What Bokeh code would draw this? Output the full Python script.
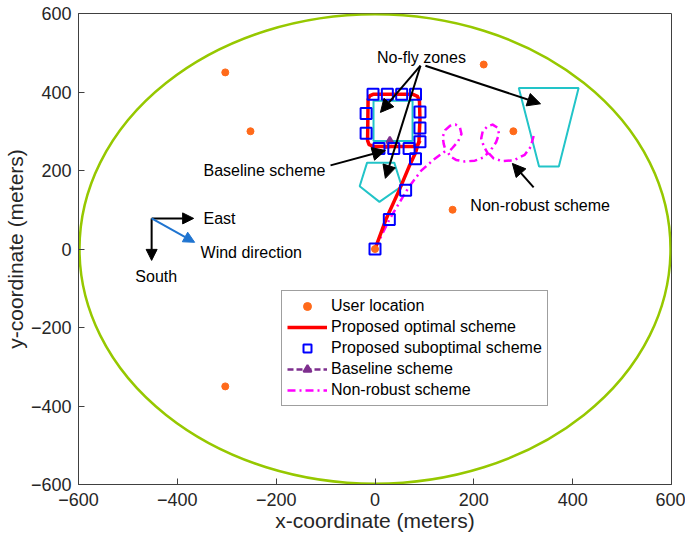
from bokeh.plotting import figure
from bokeh.models import (Arrow, NormalHead, Legend, LegendItem, Range1d,
                          FixedTicker, ColumnDataSource)
from bokeh.core.properties import value
from bokeh.embed import file_html
from bokeh.resources import INLINE

# ---------------- data ----------------
area_radius = 598
user_x = [-303, -252, 220, 280, 157, -303, 0]
user_y = [450, 300, 470, 300, 100, -350, 0]

nfz_square_x = [-3, 76, 76, -3]
nfz_square_y = [378, 378, 275, 275]
nfz_pent_x = [-16, 39, 54, 9, -31]
nfz_pent_y = [220, 220, 160, 120, 160]
nfz_trap_x = [291, 412, 372, 332]
nfz_trap_y = [410, 410, 210, 210]

opt_x = [0, 22, 49, 69, 82, 89, 91, 90, 86, 77, -4, -11, -14, -15, -12, -2, 78, 87, 91]
opt_y = [0, 75, 150, 210, 245, 275, 330, 377, 389, 394, 394, 390, 380, 276, 266, 261, 261, 266, 276]

sub_x = [0, 29, 62, 82, 91, 91, 91, 82, 54, 25, -4, -18, -18, 8, 38, 69]
sub_y = [0, 75, 150, 230, 273, 308, 349, 394, 394, 394, 394, 345, 295, 256, 256, 256]

base_x = [19, 44, 30, 19]
base_y = [258, 262, 272, 258]
base_mark_x = [30]
base_mark_y = [276]

nr_x = [0, 29, 67, 93, 119, 143, 139, 137, 142, 152, 163, 172, 175, 168, 157, 148,
        152, 164, 182, 202, 219, 228, 220, 215, 218, 227, 238, 248, 251, 245, 236, 231,
        240, 257, 281, 303, 315, 321]
nr_y = [0, 75, 155, 199, 228, 250, 268, 286, 303, 314, 317, 309, 293, 274, 258, 246,
        236, 227, 223, 225, 233, 244, 262, 282, 300, 312, 317, 309, 293, 272, 255, 243,
        231, 224, 226, 240, 260, 288]

# annotation arrows: (x_start, y_start, x_end, y_end)
arrow_x0 = [92, 92, 102, -90, 321]
arrow_y0 = [467, 467, 467, 213, 157]
arrow_x1 = [11, 21, 335, 21, 278]
arrow_y1 = [348, 180, 370, 251, 218]

compass_x0 = -452
compass_y0 = 78
east_end = (-367, 78)
south_end = (-452, -29)
wind_end = (-365, 17)

ticks = [-600, -400, -200, 0, 200, 400, 600]

FONT = "Liberation Sans"
TXT = "#262626"

# ---------------- figure ----------------
p = figure(width=685, height=538, output_backend="svg", toolbar_location=None,
           x_range=Range1d(-600, 600), y_range=Range1d(-600, 600),
           min_border_left=75, min_border_right=14, min_border_top=13,
           min_border_bottom=54)
p.xgrid.visible = False
p.ygrid.visible = False
p.outline_line_color = "#404040"
p.outline_line_width = 1
p.background_fill_color = "white"
p.border_fill_color = "white"

for ax in (p.xaxis[0], p.yaxis[0]):
    ax.ticker = FixedTicker(ticks=ticks)
    ax.major_tick_in = 6
    ax.major_tick_out = 0
    ax.minor_tick_line_color = None
    ax.axis_line_color = "#404040"
    ax.major_tick_line_color = "#404040"
    ax.major_label_text_font = FONT
    ax.major_label_text_font_size = "18px"
    ax.major_label_text_color = TXT
    ax.axis_label_text_font = FONT
    ax.axis_label_text_font_size = "21px"
    ax.axis_label_text_font_style = "normal"
    ax.axis_label_text_color = TXT
p.xaxis.axis_label = "x-coordinate (meters)"
p.yaxis.axis_label = "y-coordinate (meters)"
p.xaxis.major_label_standoff = 8
p.xaxis.axis_label_standoff = 0
p.yaxis.major_label_standoff = 7
p.yaxis.axis_label_standoff = 1

# service area boundary
p.ellipse(x=[0], y=[0], width=[2 * area_radius], height=[2 * area_radius],
          fill_alpha=0, line_color="#96c800", line_width=2.5)

# no-fly zones
p.patch(nfz_square_x, nfz_square_y, fill_alpha=0, line_color="#22c4c8", line_width=2)
p.patch(nfz_pent_x, nfz_pent_y, fill_alpha=0, line_color="#22c4c8", line_width=2)
p.patch(nfz_trap_x, nfz_trap_y, fill_alpha=0, line_color="#22c4c8", line_width=2)

# trajectories
r_nr = p.line(nr_x, nr_y, line_color="#ff00ff", line_width=2.5, line_dash="8 4 2 4",
              line_join="round")
r_base_l = p.line(base_x, base_y, line_color="#7E2F8E", line_width=2.5, line_dash="6 3")
r_base_m = p.scatter(base_mark_x, base_mark_y, marker="triangle", size=7,
                     fill_color="#7E2F8E", line_color="#7E2F8E", line_width=2)
r_opt = p.line(opt_x, opt_y, line_color="#ff0000", line_width=3.5, line_join="round")
r_sub = p.scatter(sub_x, sub_y, marker="square", size=11, fill_alpha=0,
                  line_color="#0000ff", line_width=2)
r_user = p.scatter(user_x, user_y, marker="circle", size=7, fill_color="#ff6a1a",
                   line_color="#ff6a1a")

# annotation arrows
for xs, ys, xe, ye in zip(arrow_x0, arrow_y0, arrow_x1, arrow_y1):
    p.add_layout(Arrow(end=NormalHead(size=13, fill_color="black", line_color="black"),
                       x_start=xs, y_start=ys, x_end=xe, y_end=ye,
                       line_color="black", line_width=2))
for (xe, ye), col in [(east_end, "black"), (south_end, "black"), (wind_end, "#1f74d0")]:
    p.add_layout(Arrow(end=NormalHead(size=11, fill_color=col, line_color=col),
                       x_start=compass_x0, y_start=compass_y0, x_end=xe, y_end=ye,
                       line_color=col, line_width=2))

# texts
lab_x = [94, -347, 193, -347, -353, -485]
lab_y = [488, 200, 112, 78, -9, -70]
lab_t = ["No-fly zones", "Baseline scheme", "Non-robust scheme", "East",
         "Wind direction", "South"]
lab_align = ["center", "left", "left", "left", "left", "left"]
src = ColumnDataSource(dict(x=lab_x, y=lab_y, t=lab_t, a=lab_align))
p.text(x="x", y="y", text="t", source=src, text_align="a", text_baseline="middle",
       text_font=value(FONT), text_font_size="16px", text_color="black")

legend = Legend(items=[
    LegendItem(label="User location", renderers=[r_user]),
    LegendItem(label="Proposed optimal scheme", renderers=[r_opt]),
    LegendItem(label="Proposed suboptimal scheme", renderers=[r_sub]),
    LegendItem(label="Baseline scheme", renderers=[r_base_l, r_base_m]),
    LegendItem(label="Non-robust scheme", renderers=[r_nr]),
], location=(203, 78))
legend.label_text_font = FONT
legend.label_text_font_size = "16px"
legend.label_text_color = "black"
legend.glyph_width = 40
legend.glyph_height = 20
legend.label_height = 20
legend.spacing = 1
legend.padding = 5
legend.margin = 0
legend.label_standoff = 4
legend.border_line_color = "#404040"
legend.border_line_width = 1
legend.background_fill_alpha = 1
p.add_layout(legend, "center")

open("out.html", "w").write(file_html(p, INLINE))
